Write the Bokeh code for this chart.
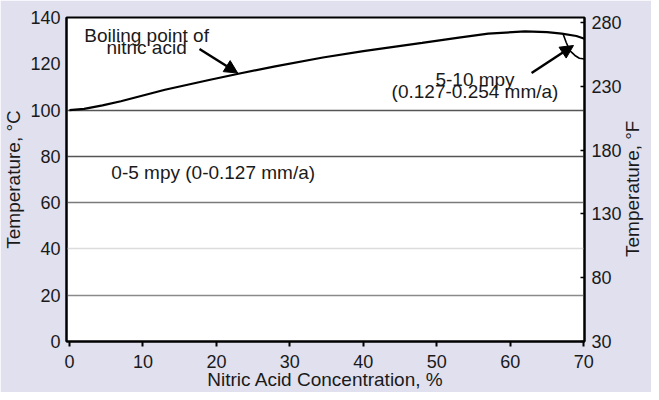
import math
from bokeh.plotting import figure
from bokeh.models import (Range1d, LinearAxis, FixedTicker, Label, Arrow, NormalHead,
                          ColumnDataSource)
from bokeh.embed import file_html
from bokeh.resources import INLINE

# ---- data ----
conc = [0, 2, 4.5, 7, 10, 13, 15, 19, 23, 28, 34.5, 40, 48, 53, 57, 62, 65, 67, 69, 70.1]
boil_c = [100, 100.5, 102, 103.8, 106.3, 108.8, 110.2, 113, 115.7, 118.9, 122.7,
          125.5, 129, 131.3, 133, 134, 133.7, 133, 132, 130.8]
arc_conc = [67.2, 67.6, 68.1, 68.8, 69.4, 70.1]
arc_c = [132.8, 129.3, 125.7, 123.6, 122.4, 122.1]
grid_c = [20, 40, 60, 80, 100]
x_ticks = [0, 10, 20, 30, 40, 50, 60, 70]
c_ticks = [0, 20, 40, 60, 80, 100, 120, 140]
f_ticks = [30, 80, 130, 180, 230, 280]

BG = "#e0e0ef"
FONT = "Liberation Sans"
TXT = "#1a1a1a"

p = figure(width=651, height=392, output_backend="svg", toolbar_location=None,
           x_range=Range1d(-0.4, 70.1), y_range=Range1d(0, 140),
           min_border_left=66, min_border_right=67, min_border_top=17, min_border_bottom=48)
p.background_fill_color = "white"
p.border_fill_color = BG
p.outline_line_color = "black"
p.outline_line_width = 2
p.xgrid.visible = False
p.ygrid.visible = False

p.extra_y_ranges = {"f": Range1d(30, 284)}
raxis = LinearAxis(y_range_name="f", ticker=FixedTicker(ticks=f_ticks))
p.add_layout(raxis, "right")

for ax in [p.xaxis[0], p.yaxis[0], raxis]:
    ax.major_label_text_font = FONT
    ax.major_label_text_font_size = "18px"
    ax.major_label_text_color = TXT
    ax.axis_label_text_font = FONT
    ax.axis_label_text_font_size = "19px"
    ax.axis_label_text_font_style = "normal"
    ax.axis_label_text_color = TXT
    ax.minor_tick_line_color = None
    ax.axis_line_color = "black"
    ax.axis_line_width = 2

p.xaxis.ticker = FixedTicker(ticks=x_ticks)
p.xaxis.major_tick_in = 0
p.xaxis.major_tick_out = 5
p.xaxis.major_tick_line_width = 2
p.xaxis.major_label_standoff = 8
p.xaxis.axis_label = "Nitric Acid Concentration, %"
p.xaxis.axis_label_standoff = -2

p.yaxis[0].ticker = FixedTicker(ticks=c_ticks)
p.yaxis[0].major_tick_in = 0
p.yaxis[0].major_tick_out = 0
p.yaxis[0].major_label_standoff = 6
p.yaxis[0].axis_label = "Temperature, \u00b0C"
p.yaxis[0].axis_label_standoff = 3

raxis.major_tick_in = 4
raxis.major_tick_out = 0
raxis.major_tick_line_width = 1.5
raxis.major_label_standoff = 7

# horizontal reference lines
grid_colors = ["#8a8a8a", "#dcdcdc", "#7a7a7a", "#555555", "#555555"]
gsrc = ColumnDataSource(dict(y=grid_c, c=grid_colors))
p.hspan(y="y", line_color="c", line_width=1.5, source=gsrc)

# boiling point curve and 5-10 mpy arc
p.line(conc, boil_c, line_color="black", line_width=2.2)
p.line(arc_conc, arc_c, line_color="black", line_width=1.6)

def mk(x, y, t, align="center", size="19px", angle=0.0):
    return Label(x=x, y=y, text=t, text_font=FONT, text_font_size=size,
                 text_color=TXT, text_align=align, text_baseline="middle", angle=angle)

p.add_layout(mk(10.5, 132.4, "Boiling point of"))
p.add_layout(mk(10.5, 127.1, "nitric acid"))
p.add_layout(mk(55.2, 113.3, "5-10 mpy"))
p.add_layout(mk(55.2, 107.9, "(0.127-0.254 mm/a)"))
p.add_layout(mk(5.7, 72.9, "0-5 mpy (0-0.127 mm/a)", align="left"))
# right-hand axis title, reading bottom-to-top, placed in the right panel
p.add_layout(mk(76.7, 66, "Temperature, \u00b0F", angle=math.pi / 2), "right")

for (x0, y0, x1, y1) in [(17.7, 126.4, 22.9, 116.0), (62.9, 116.0, 68.6, 127.9)]:
    p.add_layout(Arrow(x_start=x0, y_start=y0, x_end=x1, y_end=y1, line_width=2.5,
                       line_color="black",
                       end=NormalHead(size=13, fill_color="black", line_color="black")))

open("out.html", "w").write(file_html(p, INLINE))
